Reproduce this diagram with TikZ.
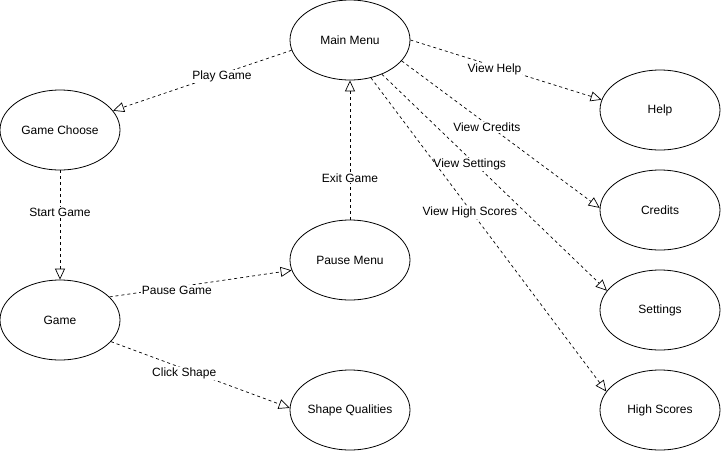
\documentclass[tikz,border=0pt]{standalone}
\usepackage{fontspec}
\setmainfont{Liberation Sans}
\usepackage{tikz}
\usetikzlibrary{arrows.meta}
\usetikzlibrary{shapes.geometric}

\begin{document}
\begin{tikzpicture}[x=1pt,y=-1pt,
	usecase/.style={draw,ellipse,line width=0.8pt,minimum width=120pt,minimum height=80pt,inner sep=0pt,font=\fontsize{12}{14}\selectfont},
	flow/.style={draw,line width=0.7pt,dash pattern=on 3pt off 3pt,-{Triangle[open,length=11pt,width=10pt]}},
	lbl/.style={fill=white,inner sep=1pt,yshift=-3pt,font=\fontsize{12}{14}\selectfont}]
	\useasboundingbox (0,0) rectangle (721,451);
	\node[usecase] (mainmenu) at (350,40) {Main Menu};
	\node[usecase] (gamechoose) at (60,130) {Game Choose};
	\node[usecase] (game) at (60,320) {Game};
	\node[usecase] (pausemenu) at (350,260) {Pause Menu};
	\node[usecase] (shapequal) at (350,410) {Shape Qualities};
	\node[usecase] (help) at (660,110) {Help};
	\node[usecase] (credits) at (660,210) {Credits};
	\node[usecase] (settings) at (660,310) {Settings};
	\node[usecase] (highscores) at (660,410) {High Scores};
	% left part
	\draw[flow] (mainmenu.190) -- node[lbl,pos=0.39] {Play Game} (gamechoose.20);
	\draw[flow] (gamechoose.south) -- node[lbl,pos=0.36] {Start Game} (game.north);
	\draw[flow] (game.25) -- node[lbl,pos=0.37] {Pause Game} (pausemenu.190);
	\draw[flow] (game.-23) -- node[lbl,pos=0.41,yshift=-2pt] {Click Shape} (shapequal.178);
	\draw[flow] (pausemenu.north) -- node[lbl,pos=0.32] {Exit Game} (mainmenu.south);
	% right part
	\draw[flow] (mainmenu.east) -- node[lbl,pos=0.44] {View Help} (help.170);
	\draw[flow] (mainmenu.-22) -- node[lbl,pos=0.43] {View Credits} (credits.178);
	\draw[flow] (mainmenu.-47) -- node[lbl,pos=0.39,yshift=-3pt] {View Settings} (settings.160);
	\draw[flow] (mainmenu.-61) -- node[lbl,pos=0.42] {View High Scores} (highscores.161);
\end{tikzpicture}
\end{document}
